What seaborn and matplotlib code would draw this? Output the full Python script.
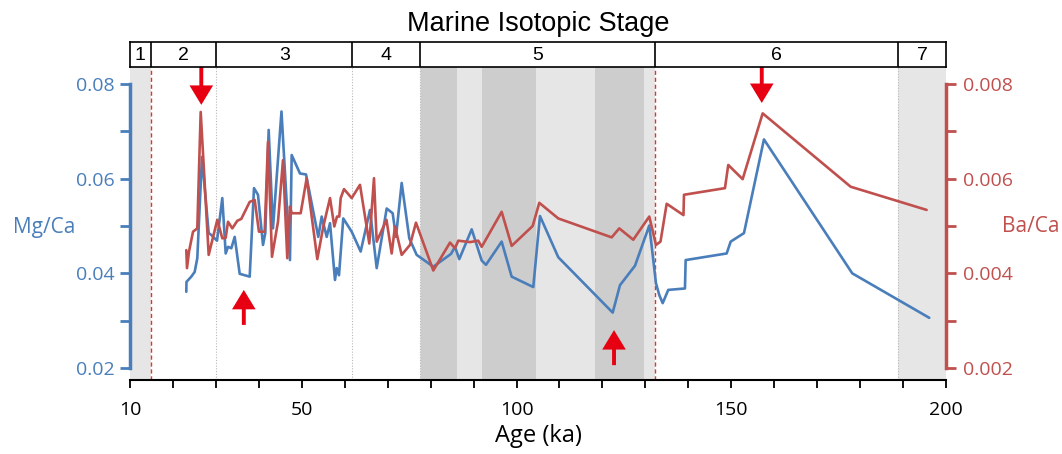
import numpy as np
import pandas as pd
import seaborn as sns
import matplotlib.pyplot as plt

# Mg/Ca record (blue, left axis)
mg_age = [23.11, 23.15, 24.27, 25.06, 25.67, 26.76, 28.32, 28.93, 30.26, 31.49,
          32.28, 32.82, 33.59, 34.38, 35.54, 37.87, 38.87, 39.80, 40.97, 41.50,
          42.29, 43.29, 45.27, 47.25, 47.65, 49.58, 50.98, 53.84, 54.63, 55.80,
          56.57, 57.73, 58.13, 58.66, 59.66, 61.62, 63.71, 65.88, 67.44, 69.77,
          71.16, 71.93, 73.26, 75.03, 76.75, 80.62, 84.74, 85.67, 86.67, 89.56,
          91.89, 92.89, 96.54, 98.87, 103.90, 105.46, 109.72, 122.39, 124.09, 127.58,
          130.91, 132.47, 133.24, 134.03, 135.33, 139.22, 139.38, 148.93, 149.86, 152.96,
          157.61, 178.17, 196.10]
mg_ca = [0.0361, 0.0382, 0.0393, 0.0403, 0.0432, 0.0646, 0.0485, 0.0481, 0.0469, 0.0559,
         0.0442, 0.0456, 0.0453, 0.0477, 0.0399, 0.0393, 0.0580, 0.0566, 0.0460, 0.0485,
         0.0703, 0.0495, 0.0742, 0.0428, 0.0650, 0.0611, 0.0609, 0.0477, 0.0520, 0.0477,
         0.0506, 0.0386, 0.0411, 0.0396, 0.0516, 0.0488, 0.0446, 0.0534, 0.0411, 0.0537,
         0.0527, 0.0477, 0.0591, 0.0474, 0.0439, 0.0414, 0.0441, 0.0456, 0.0430, 0.0493,
         0.0427, 0.0418, 0.0467, 0.0393, 0.0371, 0.0521, 0.0434, 0.0317, 0.0375, 0.0416,
         0.0501, 0.0379, 0.0354, 0.0337, 0.0365, 0.0368, 0.0428, 0.0442, 0.0467, 0.0485,
         0.0683, 0.0400, 0.0306]

# Ba/Ca record (red, right axis)
ba_age = [23.11, 23.27, 23.74, 24.67, 25.67, 26.46, 28.32, 30.33, 31.49, 32.28,
          32.82, 33.82, 34.98, 35.91, 37.87, 39.03, 40.03, 41.36, 42.13, 43.06,
          44.46, 45.62, 46.62, 47.25, 47.65, 49.74, 51.14, 53.61, 55.01, 56.57,
          57.57, 58.20, 58.73, 59.06, 59.83, 61.62, 63.55, 65.72, 66.81, 67.44,
          69.72, 70.93, 71.70, 73.26, 75.19, 76.59, 80.62, 84.51, 85.67, 86.44,
          89.16, 91.09, 91.89, 96.54, 98.87, 103.76, 105.30, 109.72, 122.15, 123.92,
          127.18, 130.91, 132.47, 133.52, 134.96, 138.87, 138.99, 148.53, 149.30, 152.65,
          157.31, 177.80, 195.49]
ba_ca = [0.00449, 0.00411, 0.00446, 0.00488, 0.00495, 0.00741, 0.00439, 0.00513, 0.00474, 0.00475,
         0.00509, 0.00495, 0.00511, 0.00515, 0.00551, 0.00555, 0.00488, 0.00488, 0.00678, 0.00435,
         0.00509, 0.00639, 0.00432, 0.00541, 0.00527, 0.00527, 0.00601, 0.00430, 0.00499, 0.00559,
         0.00499, 0.00520, 0.00520, 0.00559, 0.00578, 0.00559, 0.00587, 0.00463, 0.00601, 0.00467,
         0.00513, 0.00442, 0.00499, 0.00439, 0.00460, 0.00507, 0.00406, 0.00465, 0.00453, 0.00469,
         0.00466, 0.00469, 0.00456, 0.00530, 0.00458, 0.00500, 0.00549, 0.00516, 0.00476, 0.00495,
         0.00471, 0.00520, 0.00460, 0.00467, 0.00547, 0.00523, 0.00566, 0.00580, 0.00629, 0.00599,
         0.00738, 0.00583, 0.00534]

# Marine isotope stages
stage_names = ["1", "2", "3", "4", "5", "6", "7"]
stage_bounds = [10, 14.8, 30.1, 61.8, 77.5, 132.3, 188.8, 200]
light_bands = [(10, 14.8), (77.5, 132.3), (188.8, 200)]
dark_bands = [(77.8, 86.1), (92.0, 104.5), (118.2, 129.7)]
red_bounds = [14.8, 132.3]
gray_bounds = [30.1, 61.8, 77.5, 188.8]

# Arrows: (age, tail Mg/Ca, tip Mg/Ca)
arrows = [(26.6, 0.0836, 0.0756), (157.1, 0.0836, 0.0760),
          (36.5, 0.0291, 0.0365), (122.7, 0.0206, 0.0280)]

x_ticks = list(range(10, 201, 10))
x_labels = [10, 50, 100, 150, 200]

blue = "#4a7ebb"
red = "#c0504d"
arrow_red = "#e60012"

sns.set_style("white")
plt.rcParams["font.family"] = ["Open Sans", "DejaVu Sans"]
plt.rcParams["text.color"] = "black"

W, H = 1062, 454
fig = plt.figure(figsize=(W / 100, H / 100), dpi=100)
ax = fig.add_axes([130 / W, 1 - 380 / H, 816 / W, 313 / H])
ax2 = ax.twinx()
bar = fig.add_axes([130 / W, 1 - 67 / H, 816 / W, 25 / H])

# Background bands
for a, b in light_bands:
    ax.axvspan(a, b, color="#e6e6e6", lw=0, zorder=0)
for a, b in dark_bands:
    ax.axvspan(a, b, color="#cdcdcd", lw=0, zorder=0)
for v in red_bounds:
    ax.axvline(v, color="#e8302c", lw=1.0, ls=(0, (3, 2)), zorder=1)
for v in gray_bounds:
    ax.axvline(v, color="#b8b8b8", lw=0.8, ls=(0, (1, 1.5)), zorder=1)

mg_df = pd.DataFrame({"age": mg_age, "mg": mg_ca})
ba_df = pd.DataFrame({"age": ba_age, "ba": ba_ca})
sns.lineplot(data=mg_df, x="age", y="mg", ax=ax, color=blue, lw=1.9,
             sort=False, estimator=None, zorder=3)
sns.lineplot(data=ba_df, x="age", y="ba", ax=ax2, color=red, lw=1.9,
             sort=False, estimator=None, zorder=3)

ax.set_xlim(10, 200)
ax.set_ylim(0.01746, 0.0836)
ax2.set_ylim(0.001746, 0.00836)

# x axis
ax.set_xticks(x_ticks)
ax.set_xticklabels([str(t) if t in x_labels else "" for t in x_ticks], fontsize=14, color="black")
ax.tick_params(axis="x", bottom=True, direction="out", length=6, width=1.3,
               color="black", pad=9)
ax.set_xlabel("Age (ka)", fontsize=17, labelpad=4, color="black")
ax.spines["bottom"].set_color("black")
ax.spines["bottom"].set_linewidth(1.5)
ax.spines["top"].set_visible(False)
ax.spines["right"].set_visible(False)

# left axis
mg_ticks = [0.02, 0.03, 0.04, 0.05, 0.06, 0.07, 0.08]
ax.set_yticks(mg_ticks)
ax.set_yticklabels(["0.02", "", "0.04", "", "0.06", "", "0.08"], fontsize=14, color=blue)
ax.tick_params(axis="y", direction="out", length=7, width=2, color=blue, pad=4, left=True)
ax.spines["left"].set_color(blue)
ax.spines["left"].set_linewidth(2.5)
ax.spines["left"].set_bounds(0.02, 0.08)
ax.set_ylabel("")

# right axis
ba_ticks = [0.002, 0.003, 0.004, 0.005, 0.006, 0.007, 0.008]
ax2.set_yticks(ba_ticks)
ax2.set_yticklabels(["0.002", "", "0.004", "", "0.006", "", "0.008"], fontsize=14, color=red)
ax2.tick_params(axis="y", direction="out", length=7, width=2, color=red, pad=5, right=True)
for s in ["left", "top", "bottom"]:
    ax2.spines[s].set_visible(False)
ax2.spines["right"].set_color(red)
ax2.spines["right"].set_linewidth(2.5)
ax2.spines["right"].set_bounds(0.002, 0.008)
ax2.set_ylabel("")

fig.text(44 / W, 1 - 227 / H, "Mg/Ca", color=blue, fontsize=15, ha="center", va="center")
fig.text(1031 / W, 1 - 226 / H, "Ba/Ca", color=red, fontsize=15, ha="center", va="center")

# Arrows
for age, tail, tip in arrows:
    ax2.annotate("", xy=(age, tip), xytext=(age, tail), xycoords=ax.transData,
                 textcoords=ax.transData,
                 arrowprops=dict(facecolor=arrow_red, edgecolor="none", width=2.8,
                                 headwidth=17, headlength=14, shrink=0),
                 zorder=5, annotation_clip=False)

# Stage bar
bar.set_xlim(10, 200)
bar.set_ylim(0, 1)
bar.set_xticks([])
bar.set_yticks([])
for s in bar.spines.values():
    s.set_color("black")
    s.set_linewidth(1.2)
for v in stage_bounds[1:-1]:
    bar.axvline(v, color="black", lw=1.2)
for i, name in enumerate(stage_names):
    mid = (stage_bounds[i] + stage_bounds[i + 1]) / 2
    bar.text(mid, 0.47, name, ha="center", va="center", fontsize=14, color="black",
             family=["Liberation Sans", "DejaVu Sans"])

fig.text(538 / W, 1 - 31 / H, "Marine Isotopic Stage", ha="center", va="baseline",
         fontsize=19.5, color="black", family=["Liberation Sans", "DejaVu Sans"])

fig.savefig("out.png", dpi=100)
